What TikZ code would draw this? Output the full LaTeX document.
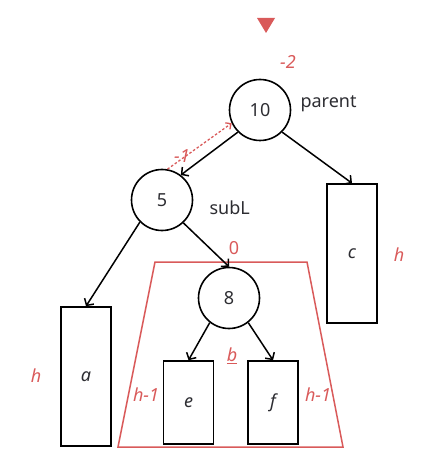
\documentclass[tikz,border=0pt]{standalone}
\usepackage{fontspec}
\setmainfont{Noto Sans}
\usetikzlibrary{arrows.meta}
\definecolor{hred}{RGB}{217,90,90}
\definecolor{ink}{RGB}{45,45,50}
\newcommand{\lab}{\fontsize{18}{22}\selectfont}
\tikzset{
  key/.style={circle,draw,line width=1.6pt,minimum size=61pt,inner sep=0pt,text=ink,font=\lab},
  sub/.style={rectangle,draw,line width=1.6pt,minimum width=50pt,inner sep=0pt,text=ink,font=\lab\itshape},
  tag/.style={text=ink,font=\lab},
  bal/.style={text=hred,font=\lab\itshape},
  link/.style={-{Straight Barb[length=5pt,width=11pt]},line width=1.5pt},
}
\begin{document}
\begin{tikzpicture}[x=1pt,y=-1pt]
\useasboundingbox (0,0) rectangle (425,470);
% nodes
\node[key] (n10) at (260,110) {10};
\node[key] (n5) at (162,200) {5};
\node[key] (n8) at (229,298) {8};
\node[sub,minimum height=139pt] (a) at (86,376.5) {a};
\node[sub,minimum height=139pt] (c) at (352,253.5) {c};
\node[sub,minimum height=83pt] (e) at (188.5,402.5) {e};
\node[sub,minimum height=83pt] (f) at (273,402.5) {f};
\node[tag,anchor=west] (parent) at (297,104) {parent};
\node[tag,anchor=west] (subL) at (206,208) {subL};
% balance factors
\node[bal] (bf10) at (288,62) {-2};
\node[bal] (bf5) at (182,156) {-1};
\node[bal,font=\lab] (bf8) at (234,248) {0};
\node[bal] (ha) at (36,376) {h};
\node[bal] (hc) at (399,255) {h};
\node[bal] (he) at (146,395) {h-1};
\node[bal] (hf) at (318,395) {h-1};
\node[bal,font=\lab\bfseries\itshape] (b) at (232,356) {\underline{b}};
% marker
\path (257,18) coordinate (t1) (275,18) coordinate (t2) (266,33) coordinate (t3);
\fill[hred] (t1)--(t2)--(t3)--cycle;
% subtree b
\path
(155,262) coordinate (q1)
(307,262) coordinate (q2)
(343,447) coordinate (q3)
(118,447) coordinate (q4);
\draw[hred,line width=1.5pt] (q1)--(q2)--(q3)--(q4)--cycle;
% edges
\draw[link] (n10.225)--(n5.53);
\draw[link] (n10.315)--(c.north);
\draw[link] (n5.225)--(a.north);
\draw[link] (n5.313)--(n8.north);
\draw[link] (n8.232)--(e.north);
\draw[link] (n8.308)--(f.north);
\draw[hred,line width=1.3pt,dash pattern=on 2.5pt off 2pt,-{Straight Barb[length=4pt,width=8pt]}] (n5.80)--(n10.205);
\end{tikzpicture}
\end{document}
